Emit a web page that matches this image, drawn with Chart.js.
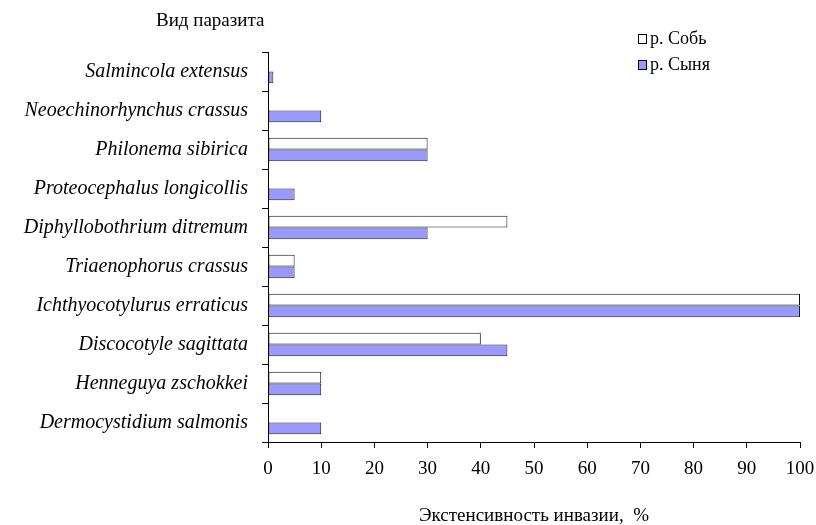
<!DOCTYPE html>
<html>
<head>
<meta charset="utf-8">
<script src="https://cdn.jsdelivr.net/npm/chart.js@4/dist/chart.umd.min.js"></script>
<style>
  html, body { margin: 0; padding: 0; background: #fff; }
  #wrap { width: 816px; height: 525px; }
</style>
</head>
<body>
<div id="wrap"><canvas id="chart" width="816" height="525"></canvas></div>
<script>
// Parasite species, top to bottom
const species = [
    'Salmincola extensus',
    'Neoechinorhynchus crassus',
    'Philonema sibirica',
    'Proteocephalus longicollis',
    'Diphyllobothrium ditremum',
    'Triaenophorus crassus',
    'Ichthyocotylurus erraticus',
    'Discocotyle sagittata',
    'Henneguya zschokkei',
    'Dermocystidium salmonis'
];

// Infection extensity, %
const sob = [0, 0, 30, 0, 45, 5, 100, 40, 10, 0];
const synya = [1, 10, 30, 5, 30, 5, 100, 45, 10, 10];

const seriesNames = ['р. Собь', 'р. Сыня'];
const xTicks = [0, 10, 20, 30, 40, 50, 60, 70, 80, 90, 100];

const axisTitle = 'Экстенсивность инвазии,  %';
const yHeader = 'Вид паразита';

const FONT = '"Liberation Serif", "Times New Roman", serif';

// header, legend and x axis title
const extras = {
    id: 'extras',
    afterDraw(chart) {
        const c = chart.ctx;
        const area = chart.chartArea;
        c.save();
        c.fillStyle = '#000';
        c.font = '19px ' + FONT;
        c.textBaseline = 'middle';
        c.textAlign = 'left';
        c.fillText(yHeader, 156, 21);

        c.textAlign = 'center';
        c.fillText(axisTitle, (area.left + area.right) / 2, 516);

        c.textAlign = 'left';
        c.font = '18px ' + FONT;
        chart.data.datasets.forEach((ds, i) => {
            const y = 39 + i * 26;
            c.fillStyle = ds.backgroundColor;
            c.fillRect(638, y - 5, 9, 10);
            c.strokeStyle = '#000';
            c.lineWidth = 1;
            c.strokeRect(638.5, y - 4.5, 8, 9);
            c.fillStyle = '#000';
            c.fillText(ds.label, 650, y);
        });
        c.restore();
    }
};

new Chart(document.getElementById('chart'), {
    type: 'bar',
    data: {
        labels: species,
        datasets: [{
            label: seriesNames[0],
            data: sob,
            backgroundColor: '#ffffff',
            borderColor: '#111',
            borderWidth: 1,
            borderSkipped: false,
            categoryPercentage: 0.6,
            barPercentage: 1
        },
        {
            label: seriesNames[1],
            data: synya,
            backgroundColor: '#9999ff',
            borderColor: '#222',
            borderWidth: 1,
            borderSkipped: false,
            categoryPercentage: 0.6,
            barPercentage: 1
        }]
    },
    options: {
        indexAxis: 'y',
        responsive: false,
        animation: false,
        layout: {
            padding: { top: 52, right: 16, left: 0, bottom: 0 }
        },
        plugins: {
            legend: { display: false },
            title: { display: false },
            tooltip: { enabled: false }
        },
        scales: {
            x: {
                min: 0,
                max: 100,
                afterFit: scale => {
                    scale.height = 83;
                    scale.paddingLeft = 0;
                    scale.paddingRight = 0;
                },
                afterBuildTicks: scale => {
                    scale.ticks = xTicks.map(v => ({ value: v }));
                },
                border: { color: '#000', width: 1 },
                grid: {
                    drawOnChartArea: false,
                    drawTicks: true,
                    tickLength: 6,
                    color: '#000'
                },
                ticks: {
                    color: '#000',
                    padding: 10,
                    maxRotation: 0,
                    font: { family: FONT, size: 19 }
                }
            },
            y: {
                afterFit: scale => {
                    scale.width = 268;
                    scale.paddingTop = 0;
                    scale.paddingBottom = 0;
                },
                border: { color: '#000', width: 1 },
                grid: {
                    offset: true,
                    drawOnChartArea: false,
                    drawTicks: true,
                    tickLength: 6,
                    color: '#000'
                },
                ticks: {
                    color: '#000',
                    padding: 14,
                    font: { family: FONT, size: 20, style: 'italic' }
                }
            }
        }
    },
    plugins: [extras]
});
</script>
</body>
</html>
